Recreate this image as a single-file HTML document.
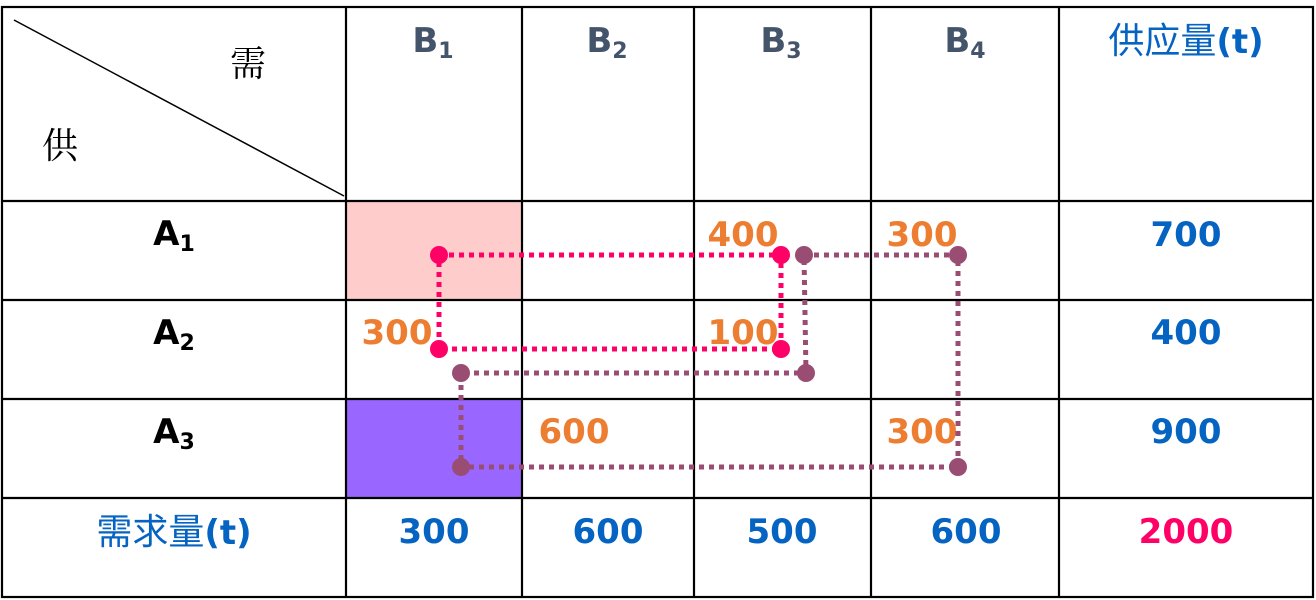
<!DOCTYPE html>
<html><head><meta charset="utf-8"><style>
html,body{margin:0;padding:0;background:#fff;}
svg{display:block}
.n{font-family:"DejaVu Sans","Liberation Sans",sans-serif;font-weight:bold;font-size:34px;text-anchor:middle}
.c{font-family:"Noto Serif CJK SC","Noto Sans CJK SC",serif;font-size:36px;text-anchor:middle}
</style></head><body>
<svg width="1316" height="600" viewBox="0 0 1316 600" xmlns="http://www.w3.org/2000/svg">
<rect x="346" y="201" width="176" height="99" fill="#ffcccc"/>
<rect x="346" y="399" width="176" height="99" fill="#9966ff"/>
<g stroke="#000" stroke-width="2.2" fill="none">
<rect x="2" y="7" width="1311" height="590"/>
<line x1="346" y1="7" x2="346" y2="597"/>
<line x1="522" y1="7" x2="522" y2="597"/>
<line x1="694" y1="7" x2="694" y2="597"/>
<line x1="871" y1="7" x2="871" y2="597"/>
<line x1="1059" y1="7" x2="1059" y2="597"/>
<line x1="2" y1="201" x2="1313" y2="201"/>
<line x1="2" y1="300" x2="1313" y2="300"/>
<line x1="2" y1="399" x2="1313" y2="399"/>
<line x1="2" y1="498" x2="1313" y2="498"/>
<line x1="14" y1="20" x2="344" y2="196" stroke-width="1.5"/>
</g>
<text x="248" y="76" class="c" fill="#000">需</text>
<text x="60" y="158" class="c" fill="#000">供</text>
<g class="n" fill="#44546a">
<text x="433" y="52">B<tspan font-size="22" dy="6">1</tspan></text>
<text x="607" y="52">B<tspan font-size="22" dy="6">2</tspan></text>
<text x="781" y="52">B<tspan font-size="22" dy="6">3</tspan></text>
<text x="965" y="52">B<tspan font-size="22" dy="6">4</tspan></text>
</g>
<text x="1186" y="53" class="n" fill="#0563c1"><tspan font-family="Noto Sans CJK SC,sans-serif" font-weight="normal" font-size="36">供应量</tspan>(t)</text>
<text x="174" y="544" class="n" fill="#0563c1"><tspan font-family="Noto Sans CJK SC,sans-serif" font-weight="normal" font-size="36">需求量</tspan>(t)</text>
<g class="n" fill="#000">
<text x="174" y="245">A<tspan font-size="22" dy="6">1</tspan></text>
<text x="174" y="344">A<tspan font-size="22" dy="6">2</tspan></text>
<text x="174" y="443">A<tspan font-size="22" dy="6">3</tspan></text>
</g>
<g class="n" fill="#ed7d31">
<text x="743" y="246">400</text>
<text x="922" y="246">300</text>
<text x="397" y="344">300</text>
<text x="743" y="344">100</text>
<text x="574" y="443">600</text>
<text x="922" y="443">300</text>
</g>
<g class="n" fill="#0563c1">
<text x="1186" y="246">700</text>
<text x="1186" y="344">400</text>
<text x="1186" y="443">900</text>
<text x="434" y="543">300</text>
<text x="608" y="543">600</text>
<text x="782" y="543">500</text>
<text x="966" y="543">600</text>
</g>
<text x="1186" y="543" class="n" fill="#ff0066">2000</text>
<g fill="none" stroke-width="5" stroke-dasharray="5 5">
<path d="M439 255 H781 V349 H439 Z" stroke="#ff0066"/>
<path d="M804 255 H958 V467 H461 V373 H806 Z" stroke="#994d73"/>
</g>
<g fill="#ff0066">
<circle cx="439" cy="255" r="9"/><circle cx="781" cy="255" r="9"/>
<circle cx="439" cy="349" r="9"/><circle cx="781" cy="349" r="9"/>
</g>
<g fill="#994d73">
<circle cx="804" cy="255" r="9"/><circle cx="958" cy="255" r="9"/>
<circle cx="461" cy="373" r="9"/><circle cx="806" cy="373" r="9"/>
<circle cx="461" cy="467" r="9"/><circle cx="958" cy="467" r="9"/>
</g>
</svg>
</body></html>
